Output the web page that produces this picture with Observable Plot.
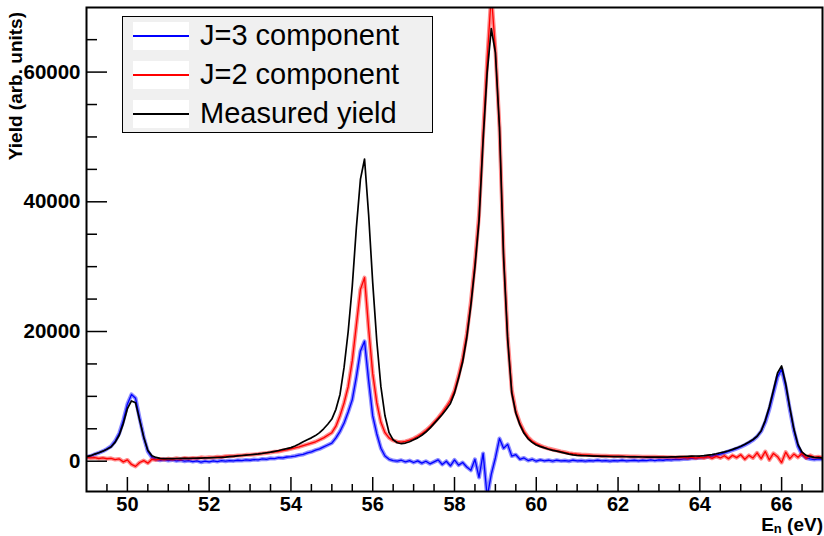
<!DOCTYPE html>
<html><head><meta charset="utf-8">
<script src="https://cdn.jsdelivr.net/npm/d3@7"></script>
<script src="https://cdn.jsdelivr.net/npm/@observablehq/plot@0.6"></script>
<style>
body{margin:0;background:#fff;}
#wrap{position:relative;width:824px;height:536px;font-family:"Liberation Sans",Arial,Helvetica,sans-serif;}
#legend{position:absolute;left:122px;top:16px;width:311px;height:117px;background:#f0f0f0;border:1px solid #000;box-sizing:border-box;}
.row{position:absolute;left:10px;height:28px;}
.sw{position:absolute;left:0;top:0;width:56px;height:28px;background:#fff;}
.sw i{position:absolute;display:block;left:0;right:0;top:13px;height:1.5px;}
.lab{position:absolute;left:67px;top:-5px;font-size:29px;line-height:36px;white-space:nowrap;color:#000;}
</style></head>
<body>
<div id="wrap"><div id="chart"></div>
<div id="legend"></div>
</div>
<script>
// Histogram binning (bin centres): 49.0 .. 67.0 eV, 0.1 eV wide
const binStart = 49.0, binWidth = 0.1;

// Measured yield (black)
const measured = [
  720, 850, 1100, 1300, 1550, 1850, 2200, 2900, 4000, 5800,
  8100, 9300, 9000, 6300, 3700, 1700, 850, 580, 450, 400,
  400, 410, 420, 430, 440, 450, 460, 470, 480, 500,
  520, 540, 570, 600, 640, 700, 760, 820, 880, 950,
  1000, 1060, 1120, 1200, 1300, 1400, 1520, 1650, 1800, 1950,
  2100, 2350, 2650, 3000, 3300, 3600, 3950, 4400, 5000, 5700,
  6500, 8000, 10300, 14500, 20000, 27000, 36000, 43500, 46600, 38000,
  27500, 18500, 11500, 7000, 4400, 3300, 2850, 2700, 2800, 3000,
  3300, 3600, 4000, 4500, 5100, 5800, 6500, 7200, 8000, 8900,
  10500, 12800, 15300, 19000, 24000, 29900, 37000, 49500, 60000, 66700,
  63000, 51500, 31500, 18800, 10500, 7400, 5600, 4300, 3450, 2900,
  2500, 2250, 2050, 1850, 1680, 1550, 1400, 1250, 1100, 980,
  900, 870, 840, 810, 790, 770, 750, 740, 730, 720,
  710, 700, 690, 680, 670, 660, 650, 640, 630, 625,
  620, 630, 640, 660, 680, 700, 730, 760, 790, 800,
  800, 850, 930, 1020, 1150, 1300, 1450, 1620, 1820, 2050,
  2300, 2600, 2950, 3350, 3850, 4700, 6300, 8400, 11000, 13600,
  14700, 12000, 8300, 5000, 2600, 1400, 900, 700, 600, 560,
  520
];

// J=2 component (red)
const j2 = [
  600, 500, 550, 420, 500, 380, 450, 250, 350, -100,
  200, -500, -800, -200, 100, -300, 300, 200, 350, 250,
  400, 300, 450, 350, 500, 420, 500, 450, 600, 520,
  600, 580, 680, 650, 780, 800, 820, 900, 880, 980,
  1000, 1050, 1100, 1200, 1250, 1350, 1450, 1500, 1650, 1750,
  1900, 2050, 2200, 2400, 2600, 2800, 3000, 3300, 3600, 4000,
  4400, 5400, 7000, 9000, 11500, 15500, 21000, 26500, 28300, 20500,
  13500, 9000, 6000, 4400, 3600, 3200, 3000, 2950, 3050, 3250,
  3500, 3850, 4250, 4750, 5300, 6000, 6700, 7500, 8400, 9400,
  10900, 13200, 15900, 19600, 24600, 30600, 38000, 50500, 62000, 72000,
  63500, 51500, 32000, 19200, 11000, 7700, 5900, 4600, 3700, 3100,
  2700, 2400, 2150, 1950, 1800, 1650, 1500, 1380, 1250, 1150,
  1080, 1020, 980, 940, 900, 870, 850, 830, 810, 800,
  790, 770, 760, 740, 730, 720, 700, 690, 680, 670,
  660, 640, 620, 600, 580, 560, 620, 500, 650, 480,
  600, 500, 700, 450, 750, 500, 850, 400, 900, 550,
  1000, 300, 900, 500, 1300, 400, 1500, 200, 1200, 700,
  -200, 1400, 400, 1100, 600, 1200, 500, 900, 600, 700,
  550
];

// J=3 component (blue)
const j3 = [
  650, 800, 1050, 1300, 1550, 1900, 2300, 3100, 4300, 6300,
  8800, 10300, 9700, 6600, 3700, 1500, 600, 300, 150, 250,
  100, 200, 50, 150, 0, 100, -50, 50, -150, 0,
  -100, 50, -50, 100, 0, 100, 50, 150, 100, 200,
  150, 250, 200, 350, 300, 450, 400, 550, 500, 650,
  700, 800, 950, 1050, 1300, 1450, 1700, 1900, 2200, 2500,
  2800, 3600, 4600, 5900, 7600, 9500, 13000, 17000, 18500, 12500,
  7000, 4200, 2000, 800, 300, 100, 0, 150, -100, 100,
  -200, 50, -300, 0, -400, -100, 200, -500, 0, -700,
  200, -600, -200, -900, -1400, 300, -2500, 1200, -5500, -2000,
  500, 3500, 2000, 2600, 800, 1000, 300, 500, 100, 300,
  0, 200, 50, 150, 0, 150, 50, 100, 0, 150,
  50, 100, 0, 100, 50, 150, 50, 100, 0, 100,
  50, 150, 50, 100, 150, 50, 150, 100, 200, 100,
  200, 150, 250, 200, 300, 250, 350, 350, 450, 450,
  550, 600, 700, 800, 950, 1100, 1300, 1500, 1700, 1950,
  2200, 2500, 2850, 3250, 3800, 4600, 6000, 8000, 10500, 13000,
  14200, 11500, 8000, 4700, 2300, 1000, 500, 350, 250, 350,
  300
];

// Axis ticks and labels
const xMajor = [50, 52, 54, 56, 58, 60, 62, 64, 66];
const xMinor = [49.5, 50.5, 51, 51.5, 52.5, 53, 53.5, 54.5, 55, 55.5, 56.5, 57, 57.5,
                58.5, 59, 59.5, 60.5, 61, 61.5, 62.5, 63, 63.5, 64.5, 65, 65.5, 66.5];
const yMajor = [0, 20000, 40000, 60000];
const yMinor = [5000, 10000, 15000, 25000, 30000, 35000, 45000, 50000, 55000, 65000];
const xDomain = [49, 67];
const yDomain = [-4670, 69960];
const yTitle = "Yield (arb. units)";
const legendItems = ["J=3 component", "J=2 component", "Measured yield"];
const legendColors = ["#0000ff", "#ff0000", "#000000"];

const toRows = (vals) => vals.map((v, i) => ({E: binStart + i * binWidth, v}));
const dMeas = toRows(measured), dJ2 = toRows(j2), dJ3 = toRows(j3);

const font = '"Liberation Sans", Arial, Helvetica, sans-serif';
const chart = Plot.plot({
  width: 824, height: 536,
  marginLeft: 86, marginRight: 2, marginTop: 7, marginBottom: 45,
  x: {domain: xDomain},
  y: {domain: yDomain},
  style: {fontFamily: font, background: "white", color: "black"},
  marks: [
    Plot.line(dJ3, {x: "E", y: "v", stroke: "#0000ff", strokeWidth: 4, strokeOpacity: 0.45, clip: true}),
    Plot.line(dJ3, {x: "E", y: "v", stroke: "#0000ff", strokeWidth: 1.3, clip: true}),
    Plot.line(dJ2, {x: "E", y: "v", stroke: "#ff0000", strokeWidth: 4, strokeOpacity: 0.45, clip: true}),
    Plot.line(dJ2, {x: "E", y: "v", stroke: "#ff0000", strokeWidth: 1.3, clip: true}),
    Plot.line(dMeas, {x: "E", y: "v", stroke: "#000", strokeWidth: 1.7, clip: true}),
    Plot.axisX({ticks: xMinor, tickSize: -7, tickFormat: () => "", strokeWidth: 1.5, label: null}),
    Plot.axisX({ticks: xMajor, tickSize: -14, tickFormat: () => "", strokeWidth: 1.5, label: null}),
    Plot.axisX({ticks: xMajor, tickSize: 0, tickPadding: 5, tickFormat: d => String(d), fontSize: 20, fontWeight: "bold", label: null}),
    Plot.axisY({ticks: yMinor, tickSize: -11, tickFormat: () => "", strokeWidth: 1.5, label: null}),
    Plot.axisY({ticks: yMajor, tickSize: -21, tickFormat: () => "", strokeWidth: 1.5, label: null}),
    Plot.axisY({ticks: yMajor, tickSize: 0, tickPadding: 6, tickFormat: d => String(d), fontSize: 20.5, fontWeight: "bold", label: null}),
    Plot.frame({stroke: "#000", strokeWidth: 2})
  ]
});
document.getElementById("chart").appendChild(chart);

const svg = d3.select(chart);
// y title
svg.append("text")
  .attr("transform", "translate(22,12) rotate(-90)")
  .attr("text-anchor", "end")
  .attr("font-family", font).attr("font-size", 19).attr("font-weight", "bold")
  .text(yTitle);
// x title with subscript
const xt = svg.append("text")
  .attr("x", 823).attr("y", 531)
  .attr("text-anchor", "end")
  .attr("font-family", font).attr("font-size", 19).attr("font-weight", "bold");
xt.append("tspan").text("E");
xt.append("tspan").attr("font-size", 13).attr("dy", 2).text("n");
xt.append("tspan").attr("dy", -2).text(" (eV)");

// legend
const lg = d3.select("#legend");
legendItems.forEach((name, i) => {
  const row = lg.append("div").attr("class", "row").style("top", (5 + i * 39) + "px");
  row.append("div").attr("class", "sw").append("i").style("background", legendColors[i]);
  row.append("div").attr("class", "lab").text(name);
});
</script>
</body></html>
